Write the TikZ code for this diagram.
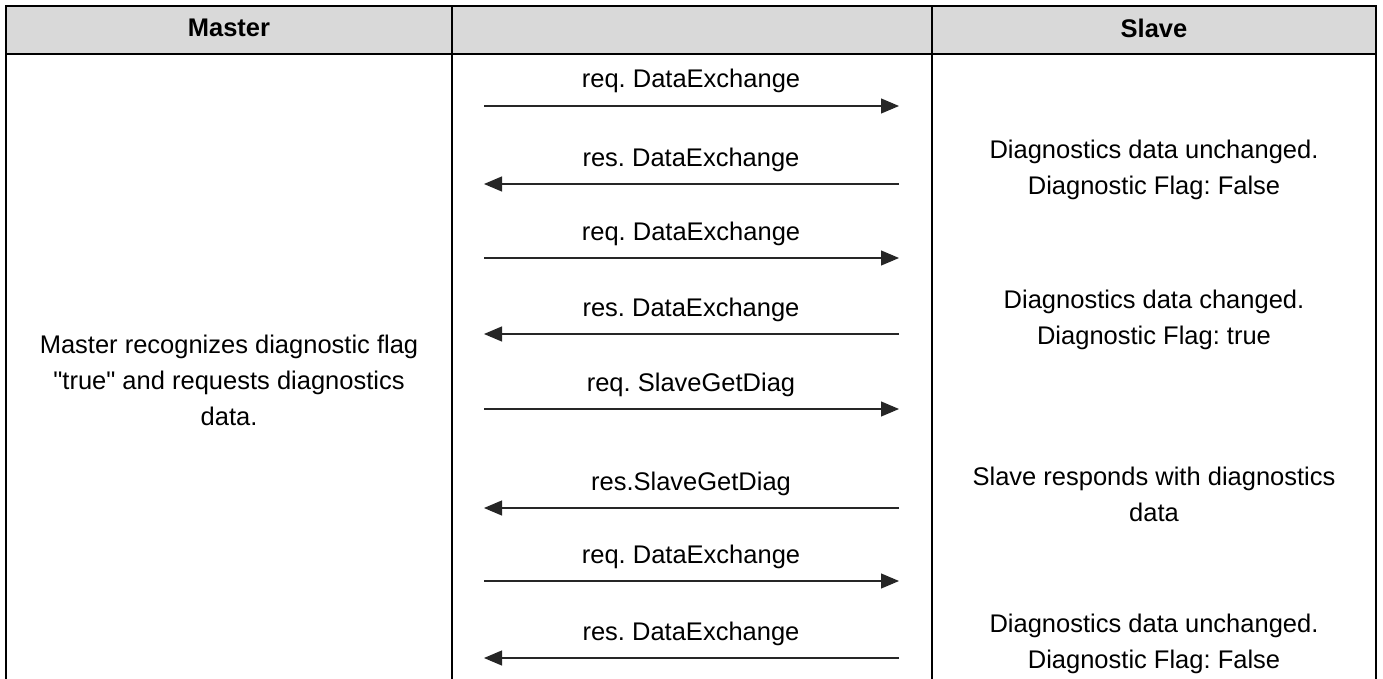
\documentclass[tikz,border=0pt]{standalone}
\usepackage{fontspec}
\newfontfamily\arialfont{Liberation Sans}
\usetikzlibrary{arrows.meta}
\definecolor{hdrgray}{HTML}{D9D9D9}
\begin{document}
\frenchspacing
\begin{tikzpicture}[x=1bp,y=-1bp,
  txt/.style={font=\arialfont\fontsize{25.5bp}{36bp}\selectfont, align=center, inner sep=0pt},
  hdr/.style={font=\arialfont\fontsize{25.5bp}{30bp}\selectfont\bfseries, inner sep=0pt},
  lbl/.style={font=\arialfont\fontsize{25.5bp}{30bp}\selectfont, inner sep=0pt, anchor=base},
  msg/.style={line width=1.1bp, draw=black!85, -{Triangle[length=18bp,width=15bp]}},
  rule/.style={line width=2.5bp, line cap=rect}]
\useasboundingbox (0,0) rectangle (1383,679);
% header
\fill[hdrgray] (6,6) rectangle (1376,54);
\draw[rule] (6,6) -- (1376,6);
\draw[rule] (6,54) -- (1376,54);
\draw[rule] (6,6) -- (6,690);
\draw[rule] (452,6) -- (452,690);
\draw[rule] (932,6) -- (932,690);
\draw[rule] (1376,6) -- (1376,690);
\node[hdr] (hm) at (229,28) {Master};
\node[hdr] (hs) at (1154,28) {Slave};
% arrows
\foreach \n/\y in {a/106, b/184, c/258, d/334, e/409, f/508, g/581, h/658}{
  \coordinate (m\n) at (484,\y);
  \coordinate (s\n) at (899,\y);
}
\draw[msg] (ma) -- (sa);
\draw[msg] (sb) -- (mb);
\draw[msg] (mc) -- (sc);
\draw[msg] (sd) -- (md);
\draw[msg] (me) -- (se);
\draw[msg] (sf) -- (mf);
\draw[msg] (mg) -- (sg);
\draw[msg] (sh) -- (mh);
% labels
\node[lbl] (la) at (691,88) {req. DataExchange};
\node[lbl] (lb) at (691,166) {res. DataExchange};
\node[lbl] (lc) at (691,240) {req. DataExchange};
\node[lbl] (ld) at (691,316) {res. DataExchange};
\node[lbl] (le) at (691,391) {req. SlaveGetDiag};
\node[lbl] (lf) at (691,490) {res.SlaveGetDiag};
\node[lbl] (lg) at (691,563) {req. DataExchange};
\node[lbl] (lh) at (691,640) {res. DataExchange};
% side texts
\node[txt] (master) at (229,380) {Master recognizes diagnostic flag\\"true" and requests diagnostics\\data.};
\node[txt] (s1) at (1154,170) {Diagnostics data unchanged.\\Diagnostic Flag: False};
\node[txt] (s2) at (1154,320) {Diagnostics data changed.\\Diagnostic Flag: true};
\node[txt] (s3) at (1154,494) {Slave responds with diagnostics\\data};
\node[txt] (s4) at (1154,644) {Diagnostics data unchanged.\\Diagnostic Flag: False};
\end{tikzpicture}
\end{document}
